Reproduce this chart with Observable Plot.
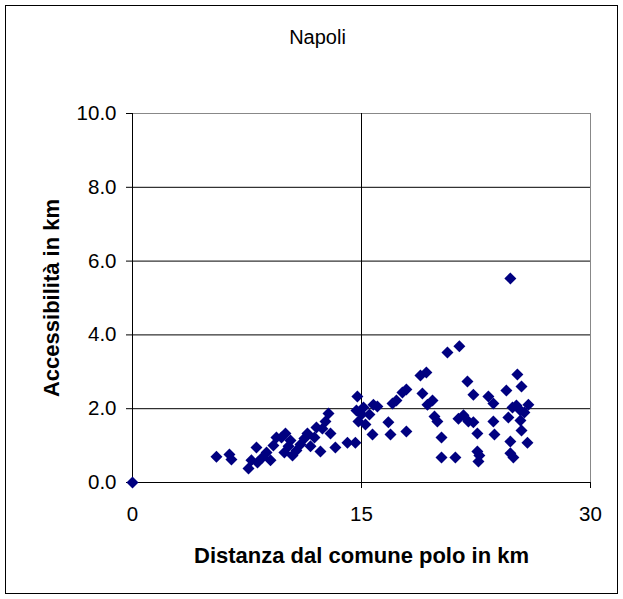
<!DOCTYPE html>
<html>
<head>
<meta charset="utf-8">
<script src="https://cdn.jsdelivr.net/npm/d3@7"></script>
<script src="https://cdn.jsdelivr.net/npm/@observablehq/plot@0.6"></script>
<style>
  body { margin: 0; background: #fff; }
  #wrap { position: relative; width: 623px; height: 599px; }
  #border { position: absolute; left: 5px; top: 5px; width: 611px; height: 587px; border: 1px solid #000; pointer-events: none; }
</style>
</head>
<body>
<div id="wrap"><div id="border"></div></div>
<script>
const title = "Napoli";
const xLabel = "Distanza dal comune polo in km";
const yLabel = "Accessibilità in km";
const xTicks = [0, 15, 30];
const yTicks = [0, 2, 4, 6, 8, 10];
const yGrid = [2, 4, 6, 8];
const xGrid = [15];

const distanza = [
  0, 5.50, 6.35, 6.48, 7.60, 7.79, 8.12, 8.19, 8.51, 8.78,
  9.04, 9.23, 9.43, 9.76, 10.02, 9.95, 10.22, 10.35, 10.48, 10.74,
  11.00, 11.26, 11.46, 11.66, 11.92, 12.05, 12.31, 12.44, 12.64, 12.84,
  12.97, 13.29, 14.08, 14.60, 14.73, 14.67, 14.80, 15.00, 15.13, 15.26,
  15.52, 15.78, 15.72, 16.04, 16.90, 16.76, 17.03, 17.29, 17.68, 17.94,
  17.94, 18.86, 19.25, 18.99, 19.32, 19.65, 19.78, 19.97, 20.24, 20.24,
  20.63, 21.41, 21.15, 21.35, 21.68, 21.94, 22.00, 22.33, 22.33, 22.59,
  22.59, 22.72, 22.66, 23.31, 23.64, 23.64, 23.71, 24.49, 24.75, 24.89,
  24.62, 24.75, 24.75, 24.95, 25.21, 25.48, 25.41, 25.48, 25.67, 25.87,
  25.93, 25.41, 25.15
];
const accessibilita = [
  0, 0.70, 0.76, 0.62, 0.38, 0.60, 0.95, 0.54, 0.68, 0.81,
  0.60, 1.00, 1.22, 1.22, 1.33, 0.81, 0.98, 1.14, 0.73, 0.87,
  1.03, 1.19, 1.33, 0.98, 1.22, 1.49, 0.84, 1.46, 1.65, 1.87,
  1.33, 0.95, 1.08, 1.08, 2.33, 1.95, 1.65, 1.84, 2.03, 1.57,
  1.84, 2.11, 1.30, 2.06, 1.30, 1.63, 2.14, 2.22, 2.44, 2.52,
  1.38, 2.90, 2.98, 2.41, 2.11, 2.22, 1.79, 1.65, 1.22, 0.68,
  3.52, 3.69, 0.68, 1.73, 1.82, 2.74, 1.65, 2.38, 1.63, 1.33,
  0.84, 0.73, 0.57, 2.33, 2.14, 1.65, 1.30, 2.49, 5.53, 2.03,
  1.76, 1.11, 0.79, 0.68, 2.93, 2.60, 1.68, 1.41, 1.90, 1.08,
  2.11, 1.95, 2.09
];

const data = distanza.map((d, i) => ({x: d, y: accessibilita[i]}));

const chart = Plot.plot({
  width: 623,
  height: 599,
  marginLeft: 132,
  marginRight: 33,
  marginTop: 113,
  marginBottom: 117,
  x: {domain: [0, 30]},
  y: {domain: [0, 10]},
  style: {fontFamily: "'Liberation Sans', Arial, sans-serif", fontSize: "20px", color: "#000", background: "transparent"},
  marks: [
    Plot.frame({stroke: "#888"}),
    Plot.ruleY(yGrid, {stroke: "#000"}),
    Plot.ruleX(xGrid, {stroke: "#000"}),
    Plot.ruleY([0], {stroke: "#000"}),
    Plot.ruleX([0], {stroke: "#000"}),
    Plot.axisX({ticks: xTicks, tickSize: 6, tickPadding: 18, label: null, stroke: "#000", fontSize: 20.5}),
    Plot.axisY({ticks: yTicks, tickFormat: d3.format(".1f"), tickSize: 6, tickPadding: 10, label: null, stroke: "#000", fontSize: 20.5}),
    Plot.dot(data, {x: "x", y: "y", symbol: "diamond2", r: 5.4, fill: "#000080", stroke: "none"}),
    Plot.text([title], {text: d => d, frameAnchor: "top", textAnchor: "middle", lineAnchor: "middle", dy: -76, dx: -44, fontSize: 20}),
    Plot.text([xLabel], {text: d => d, frameAnchor: "bottom", textAnchor: "middle", lineAnchor: "middle", dy: 73, fontSize: 22, fontWeight: "bold"}),
    Plot.text([yLabel], {text: d => d, frameAnchor: "left", textAnchor: "middle", lineAnchor: "middle", dx: -81, rotate: -90, fontSize: 22, fontWeight: "bold"})
  ]
});
document.getElementById("wrap").prepend(chart);
</script>
</body>
</html>
